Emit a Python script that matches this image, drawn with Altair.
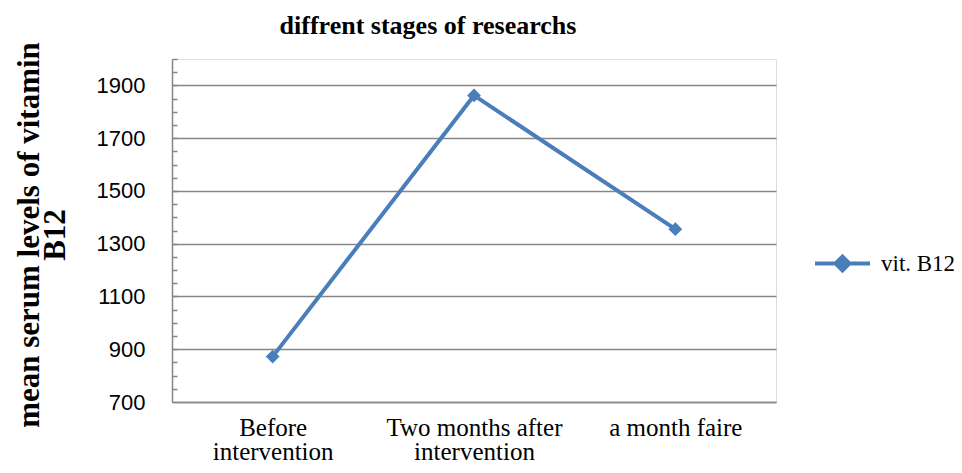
import altair as alt
import pandas as pd

# ---- data ----
stages = ["Before\nintervention", "Two months after\nintervention", "a month faire"]
b12_values = [872, 1862, 1355]
series_name = "vit. B12"
major_ticks = [700, 900, 1100, 1300, 1500, 1700, 1900]
minor_ticks = list(range(750, 2001, 50))
y_domain = [700, 2000]

df = pd.DataFrame({"stage": stages, "value": b12_values, "series": [series_name] * len(stages)})

BLUE = "#4A7EBB"
GRAY = "#868686"
W, H = 604, 343

x_enc = alt.X(
    "stage:N",
    sort=stages,
    scale=alt.Scale(type="point", padding=0.5),
    axis=alt.Axis(
        title=None,
        labelAngle=0,
        labelExpr="split(datum.label, '\\n')",
        labelFont="Liberation Serif",
        labelFontSize=25,
        labelColor="black",
        labelLineHeight=24,
        labelPadding=13,
        labelLimit=400,
        ticks=False,
        domainColor=GRAY,
        domainWidth=1.5,
        grid=False,
    ),
)

main = alt.Chart(df).mark_line(
    strokeWidth=4,
    point=alt.OverlayMarkDef(shape="diamond", size=190, filled=True, color=BLUE),
).encode(
    x=x_enc,
    y=alt.Y(
        "value:Q",
        scale=alt.Scale(domain=y_domain, nice=False, zero=False),
        axis=alt.Axis(
            orient="left",
            values=major_ticks,
            format="d",
            title=["mean serum levels of vitamin", "B12"],
            titleFont="Liberation Serif",
            titleFontSize=31,
            titleFontWeight="bold",
            titleColor="black",
            titleLineHeight=26,
            titleAngle=-90,
            titleAlign="center",
            titleBaseline="middle",
            titleX=-143,
            titleY=H / 2 + 4,
            titleLimit=600,
            labelFont="Liberation Sans",
            labelFontSize=22,
            labelColor="black",
            labelPadding=27,
            tickSize=0,
            grid=True,
            gridColor=GRAY,
            gridWidth=1.5,
            domainColor=GRAY,
            domainWidth=1.5,
        ),
    ),
    color=alt.Color(
        "series:N",
        scale=alt.Scale(range=[BLUE]),
        legend=alt.Legend(
            title=None,
            orient="none",
            legendX=641,
            legendY=175,
            symbolType="M-1,0L1,0M-0.25,0L0,-0.25L0.25,0L0,0.25Z",
            symbolSize=3025,
            symbolStrokeWidth=4,
            symbolFillColor=BLUE,
            symbolStrokeColor=BLUE,
            labelFont="Liberation Serif",
            labelFontSize=23,
            labelColor="black",
            labelOffset=9,
            labelLimit=300,
        ),
    ),
)

minor = alt.Chart(df).mark_point(opacity=0).encode(
    y=alt.Y(
        "value:Q",
        scale=alt.Scale(domain=y_domain, nice=False, zero=False),
        axis=alt.Axis(
            orient="right",
            offset=-W,
            values=minor_ticks,
            labels=False,
            domain=False,
            grid=False,
            title=None,
            tickSize=5,
            tickColor=GRAY,
            tickWidth=1.5,
        ),
    ),
)

chart = alt.layer(main, minor).resolve_axis(y="independent").properties(
    width=W,
    height=H,
    autosize=alt.AutoSizeParams(type="none"),
    padding={"left": 164, "top": 51, "right": 178, "bottom": 63},
    title=alt.TitleParams(
        text="diffrent stages of researchs",
        font="Liberation Serif",
        fontSize=26,
        fontWeight="bold",
        color="black",
        anchor="middle",
        dx=-46,
        offset=3,
        frame="group",
    ),
).configure_view(stroke=None).configure(background="white")

chart.save("out.html", embed_options={"renderer": "svg", "actions": False})
